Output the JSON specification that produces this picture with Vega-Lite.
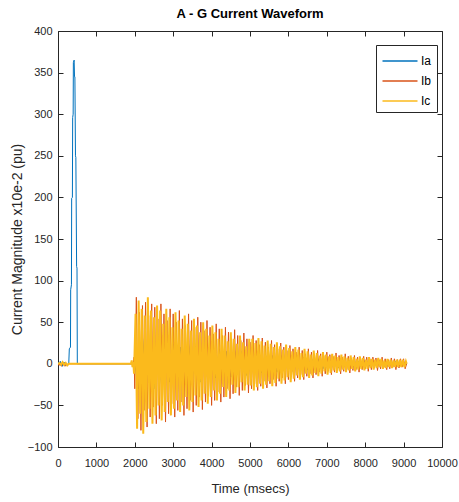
{
"$schema": "https://vega.github.io/schema/vega-lite/v6.json",
"width": 384, "height": 416,
"autosize": {"type": "none"},
"padding": {"left": 58, "top": 31, "right": 17, "bottom": 55},
"background": "white",
"config": {"view": {"stroke": null}, "font": "Liberation Sans"},
"title": {"text": "A - G Current Waveform", "font": "Liberation Sans", "fontSize": 13, "fontWeight": "bold", "color": "#000000", "anchor": "middle", "offset": 4},
"datasets": {
"ia": [
{"t":0,"v":0},{"t":20,"v":2},{"t":40,"v":-1},{"t":60,"v":3},{"t":80,"v":-2},{"t":100,"v":1},{"t":120,"v":-3},{"t":140,"v":2},{"t":160,"v":-1},{"t":180,"v":2},{"t":200,"v":-2},{"t":220,"v":1},{"t":240,"v":-1},{"t":260,"v":0},{"t":280,"v":0},
{"t":295,"v":18},{"t":325,"v":20},{"t":330,"v":89},{"t":350,"v":95},{"t":356,"v":199},{"t":375,"v":200},{"t":382,"v":296},{"t":395,"v":300},{"t":400,"v":362},{"t":420,"v":365},{"t":430,"v":345},{"t":440,"v":345},{"t":455,"v":250},{"t":465,"v":248},{"t":485,"v":117},{"t":495,"v":115},{"t":503,"v":0},{"t":1950,"v":0},
{"t":2000,"v":0},{"t":2100,"v":-30},{"t":2200,"v":32},{"t":2300,"v":-26},{"t":2400,"v":28},{"t":2500,"v":-30},{"t":2600,"v":24},{"t":2700,"v":-27},{"t":2800,"v":25},{"t":2900,"v":-22},{"t":3000,"v":24},{"t":3100,"v":-25},{"t":3200,"v":20},{"t":3300,"v":-22},{"t":3400,"v":23},{"t":3500,"v":-19},{"t":3600,"v":21},{"t":3700,"v":-22},{"t":3800,"v":18},{"t":3900,"v":-19},{"t":4000,"v":20},{"t":4100,"v":-17},{"t":4200,"v":18},{"t":4300,"v":-18},{"t":4400,"v":15},{"t":4500,"v":-16},{"t":4600,"v":16},{"t":4700,"v":-14},{"t":4800,"v":15},{"t":4900,"v":-14},{"t":5000,"v":12},{"t":5100,"v":-13},{"t":5200,"v":13},{"t":5300,"v":-11},{"t":5400,"v":12},{"t":5500,"v":-11},{"t":5600,"v":10},{"t":5700,"v":-10},{"t":5800,"v":10},{"t":5900,"v":-9},{"t":6000,"v":9},{"t":6100,"v":-9},{"t":6200,"v":8},{"t":6300,"v":-8},{"t":6400,"v":8},{"t":6500,"v":-7},{"t":6600,"v":7},{"t":6700,"v":-7},{"t":6800,"v":6},{"t":6900,"v":-6},{"t":7000,"v":6},{"t":7100,"v":-6},{"t":7200,"v":5},{"t":7300,"v":-5},{"t":7400,"v":5},{"t":7500,"v":-5},{"t":7600,"v":4},{"t":7700,"v":-4},{"t":7800,"v":4},{"t":7900,"v":-4},{"t":8000,"v":4},{"t":8100,"v":-3},{"t":8200,"v":3},{"t":8300,"v":-3},{"t":8400,"v":3},{"t":8500,"v":-3},{"t":8600,"v":3},{"t":8700,"v":-2},{"t":8800,"v":3},{"t":8900,"v":-2},{"t":9000,"v":2},{"t":9080,"v":0}
],
"ib": [
{"t":0,"v":0},{"t":30,"v":-2},{"t":60,"v":1},{"t":90,"v":-3},{"t":120,"v":2},{"t":150,"v":-1},{"t":180,"v":-3},{"t":210,"v":1},{"t":240,"v":-2},{"t":270,"v":-1},{"t":300,"v":0},{"t":1960,"v":0},{"t":1980,"v":8},
{"t":2000,"v":-30},{"t":2040,"v":80},{"t":2080,"v":-66},{"t":2120,"v":62},{"t":2160,"v":-80},{"t":2200,"v":70},{"t":2240,"v":-56},{"t":2280,"v":74},{"t":2320,"v":-76},{"t":2360,"v":58},{"t":2400,"v":-64},{"t":2440,"v":72},{"t":2480,"v":-52},
{"t":2520,"v":68},{"t":2560,"v":-72},{"t":2600,"v":54},{"t":2640,"v":-66},{"t":2680,"v":72},{"t":2720,"v":-50},{"t":2760,"v":60},{"t":2800,"v":-70},{"t":2840,"v":52},{"t":2880,"v":-60},{"t":2920,"v":66},{"t":2960,"v":-48},
{"t":3000,"v":60},{"t":3040,"v":-64},{"t":3080,"v":50},{"t":3120,"v":-56},{"t":3160,"v":64},{"t":3200,"v":-46},{"t":3240,"v":54},{"t":3280,"v":-62},{"t":3320,"v":46},{"t":3360,"v":-54},{"t":3400,"v":60},{"t":3440,"v":-44},
{"t":3480,"v":52},{"t":3520,"v":-58},{"t":3560,"v":44},{"t":3600,"v":-50},{"t":3640,"v":56},{"t":3680,"v":-40},{"t":3720,"v":50},{"t":3760,"v":-55},{"t":3800,"v":40},{"t":3840,"v":-46},{"t":3880,"v":52},{"t":3920,"v":-38},{"t":3960,"v":44},
{"t":4000,"v":-50},{"t":4040,"v":36},{"t":4080,"v":-44},{"t":4120,"v":48},{"t":4160,"v":-34},{"t":4200,"v":42},{"t":4240,"v":-46},{"t":4280,"v":34},{"t":4320,"v":-40},{"t":4360,"v":44},{"t":4400,"v":-30},{"t":4440,"v":38},{"t":4480,"v":-42},
{"t":4520,"v":30},{"t":4560,"v":-36},{"t":4600,"v":41},{"t":4640,"v":-28},{"t":4680,"v":34},{"t":4720,"v":-38},{"t":4760,"v":28},{"t":4800,"v":-32},{"t":4840,"v":37},{"t":4880,"v":-26},{"t":4920,"v":30},{"t":4960,"v":-35},
{"t":5000,"v":26},{"t":5040,"v":-30},{"t":5080,"v":34},{"t":5120,"v":-24},{"t":5160,"v":28},{"t":5200,"v":-32},{"t":5240,"v":23},{"t":5280,"v":-27},{"t":5320,"v":31},{"t":5360,"v":-21},{"t":5400,"v":26},{"t":5440,"v":-29},{"t":5480,"v":20},
{"t":5520,"v":-24},{"t":5560,"v":28},{"t":5600,"v":-19},{"t":5640,"v":23},{"t":5680,"v":-27},{"t":5720,"v":18},{"t":5760,"v":-21},{"t":5800,"v":25},{"t":5840,"v":-17},{"t":5880,"v":20},{"t":5920,"v":-24},{"t":5960,"v":16},
{"t":6000,"v":-19},{"t":6040,"v":22},{"t":6080,"v":-15},{"t":6120,"v":18},{"t":6160,"v":-21},{"t":6200,"v":14},{"t":6240,"v":-17},{"t":6280,"v":20},{"t":6320,"v":-13},{"t":6360,"v":16},{"t":6400,"v":-19},{"t":6440,"v":12},{"t":6480,"v":-15},
{"t":6520,"v":18},{"t":6560,"v":-12},{"t":6600,"v":14},{"t":6640,"v":-17},{"t":6680,"v":11},{"t":6720,"v":-13},{"t":6760,"v":16},{"t":6800,"v":-10},{"t":6840,"v":12},{"t":6880,"v":-15},{"t":6920,"v":10},{"t":6960,"v":-12},
{"t":7000,"v":14},{"t":7040,"v":-9},{"t":7080,"v":11},{"t":7120,"v":-13},{"t":7160,"v":9},{"t":7200,"v":-10},{"t":7240,"v":13},{"t":7280,"v":-8},{"t":7320,"v":10},{"t":7360,"v":-12},{"t":7400,"v":8},{"t":7440,"v":-9},{"t":7480,"v":12},
{"t":7520,"v":-7},{"t":7560,"v":9},{"t":7600,"v":-11},{"t":7640,"v":7},{"t":7680,"v":-8},{"t":7720,"v":10},{"t":7760,"v":-7},{"t":7800,"v":8},{"t":7840,"v":-10},{"t":7880,"v":6},{"t":7920,"v":-7},{"t":7960,"v":9},
{"t":8000,"v":-6},{"t":8040,"v":8},{"t":8080,"v":-9},{"t":8120,"v":6},{"t":8160,"v":-7},{"t":8200,"v":8},{"t":8240,"v":-5},{"t":8280,"v":7},{"t":8320,"v":-8},{"t":8360,"v":5},{"t":8400,"v":-6},{"t":8440,"v":8},{"t":8480,"v":-5},
{"t":8520,"v":6},{"t":8560,"v":-7},{"t":8600,"v":5},{"t":8640,"v":-6},{"t":8680,"v":7},{"t":8720,"v":-4},{"t":8760,"v":6},{"t":8800,"v":-7},{"t":8840,"v":5},{"t":8880,"v":-5},{"t":8920,"v":6},{"t":8960,"v":-4},{"t":9000,"v":6},{"t":9040,"v":-6},{"t":9080,"v":0}
],
"ic": [
{"t":0,"v":0},{"t":40,"v":1},{"t":80,"v":-1},{"t":120,"v":2},{"t":160,"v":-1},{"t":200,"v":1},{"t":240,"v":-2},{"t":280,"v":0},{"t":1900,"v":0},{"t":1920,"v":4},{"t":1940,"v":-4},{"t":1960,"v":2},{"t":1980,"v":-12},
{"t":2020,"v":60},{"t":2060,"v":-78},{"t":2100,"v":76},{"t":2140,"v":-60},{"t":2180,"v":66},{"t":2220,"v":-84},{"t":2260,"v":58},{"t":2300,"v":-70},{"t":2340,"v":80},{"t":2380,"v":-54},{"t":2420,"v":64},{"t":2460,"v":-72},{"t":2500,"v":56},
{"t":2540,"v":-62},{"t":2580,"v":70},{"t":2620,"v":-50},{"t":2660,"v":64},{"t":2700,"v":-68},{"t":2740,"v":48},{"t":2780,"v":-58},{"t":2820,"v":66},{"t":2860,"v":-46},{"t":2900,"v":56},{"t":2940,"v":-62},{"t":2980,"v":44},
{"t":3020,"v":-54},{"t":3060,"v":62},{"t":3100,"v":-44},{"t":3140,"v":52},{"t":3180,"v":-58},{"t":3220,"v":42},{"t":3260,"v":-50},{"t":3300,"v":58},{"t":3340,"v":-40},{"t":3380,"v":48},{"t":3420,"v":-56},{"t":3460,"v":40},
{"t":3500,"v":-46},{"t":3540,"v":54},{"t":3580,"v":-38},{"t":3620,"v":46},{"t":3660,"v":-52},{"t":3700,"v":38},{"t":3740,"v":-44},{"t":3780,"v":50},{"t":3820,"v":-36},{"t":3860,"v":42},{"t":3900,"v":-48},{"t":3940,"v":34},
{"t":3980,"v":-40},{"t":4020,"v":46},{"t":4060,"v":-32},{"t":4100,"v":38},{"t":4140,"v":-44},{"t":4180,"v":30},{"t":4220,"v":-36},{"t":4260,"v":42},{"t":4300,"v":-28},{"t":4340,"v":34},{"t":4380,"v":-40},{"t":4420,"v":27},
{"t":4460,"v":-32},{"t":4500,"v":38},{"t":4540,"v":-25},{"t":4580,"v":30},{"t":4620,"v":-35},{"t":4660,"v":24},{"t":4700,"v":-28},{"t":4740,"v":34},{"t":4780,"v":-22},{"t":4820,"v":26},{"t":4860,"v":-32},{"t":4900,"v":21},{"t":4940,"v":-25},
{"t":4980,"v":30},{"t":5020,"v":-26},{"t":5060,"v":30},{"t":5100,"v":-32},{"t":5140,"v":25},{"t":5180,"v":-28},{"t":5220,"v":31},{"t":5260,"v":-24},{"t":5300,"v":27},{"t":5340,"v":-30},{"t":5380,"v":22},{"t":5420,"v":-25},{"t":5460,"v":28},
{"t":5500,"v":-21},{"t":5540,"v":24},{"t":5580,"v":-27},{"t":5620,"v":20},{"t":5660,"v":-23},{"t":5700,"v":26},{"t":5740,"v":-18},{"t":5780,"v":21},{"t":5820,"v":-24},{"t":5860,"v":17},{"t":5900,"v":-20},{"t":5940,"v":23},{"t":5980,"v":-16},
{"t":6020,"v":19},{"t":6060,"v":-22},{"t":6100,"v":15},{"t":6140,"v":-18},{"t":6180,"v":20},{"t":6220,"v":-14},{"t":6260,"v":17},{"t":6300,"v":-19},{"t":6340,"v":13},{"t":6380,"v":-16},{"t":6420,"v":18},{"t":6460,"v":-12},{"t":6500,"v":15},
{"t":6540,"v":-17},{"t":6580,"v":11},{"t":6620,"v":-14},{"t":6660,"v":16},{"t":6700,"v":-11},{"t":6740,"v":13},{"t":6780,"v":-15},{"t":6820,"v":10},{"t":6860,"v":-12},{"t":6900,"v":14},{"t":6940,"v":-9},{"t":6980,"v":11},
{"t":7020,"v":-13},{"t":7060,"v":9},{"t":7100,"v":-11},{"t":7140,"v":12},{"t":7180,"v":-8},{"t":7220,"v":10},{"t":7260,"v":-11},{"t":7300,"v":8},{"t":7340,"v":-9},{"t":7380,"v":11},{"t":7420,"v":-7},{"t":7460,"v":9},{"t":7500,"v":-10},
{"t":7540,"v":7},{"t":7580,"v":-8},{"t":7620,"v":10},{"t":7660,"v":-6},{"t":7700,"v":8},{"t":7740,"v":-9},{"t":7780,"v":6},{"t":7820,"v":-7},{"t":7860,"v":9},{"t":7900,"v":-6},{"t":7940,"v":7},{"t":7980,"v":-8},
{"t":8020,"v":5},{"t":8060,"v":-6},{"t":8100,"v":8},{"t":8140,"v":-5},{"t":8180,"v":6},{"t":8220,"v":-7},{"t":8260,"v":5},{"t":8300,"v":-5},{"t":8340,"v":7},{"t":8380,"v":-4},{"t":8420,"v":6},{"t":8460,"v":-6},{"t":8500,"v":4},
{"t":8540,"v":-5},{"t":8580,"v":6},{"t":8620,"v":-4},{"t":8660,"v":5},{"t":8700,"v":-5},{"t":8740,"v":4},{"t":8780,"v":-4},{"t":8820,"v":5},{"t":8860,"v":-4},{"t":8900,"v":5},{"t":8940,"v":-4},{"t":8980,"v":5},{"t":9020,"v":-4},{"t":9060,"v":3},{"t":9080,"v":0}
]
},
"resolve": {"axis": {"x": "independent", "y": "independent"}},
"layer": [
{
"data": {"name": "ia"},
"transform": [{"calculate": "'Ia'", "as": "s"}],
"mark": {"type": "line", "strokeWidth": 1, "clip": true},
"encoding": {
"x": {"field": "t", "type": "quantitative", "scale": {"domain": [0, 10000], "nice": false},
"axis": {"title": "Time (msecs)", "format": "d", "values": [0,1000,2000,3000,4000,5000,6000,7000,8000,9000,10000], "grid": false, "domainColor": "#262626", "tickColor": "#262626", "tickSize": -5, "labelPadding": 15, "labelFont": "Liberation Sans", "labelFontSize": 11, "labelColor": "#262626", "titleFont": "Liberation Sans", "titleFontSize": 13, "titleFontWeight": "normal", "titleColor": "#262626", "titlePadding": 14, "labelFlush": false, "labelOverlap": false}},
"y": {"field": "v", "type": "quantitative", "scale": {"domain": [-100, 400], "nice": false},
"axis": {"title": "Current Magnitude x10e-2 (pu)", "format": "d", "values": [-100,-50,0,50,100,150,200,250,300,350,400], "grid": false, "domainColor": "#262626", "tickColor": "#262626", "tickSize": -5, "labelPadding": 11, "labelFont": "Liberation Sans", "labelFontSize": 11, "labelColor": "#262626", "titleFont": "Liberation Sans", "titleFontSize": 14, "titleFontWeight": "normal", "titleColor": "#262626", "titlePadding": 3, "labelOverlap": false}},
"color": {"field": "s", "type": "nominal", "scale": {"domain": ["Ia", "Ib", "Ic"], "range": ["#0072BD", "#D95319", "#FBBA1C"]},
"legend": {"title": null, "orient": "none", "legendX": 318, "legendY": 14, "direction": "vertical", "symbolType": "M-1.75,0L1.75,0", "symbolSize": 400, "symbolStrokeWidth": 1.5, "symbolOffset": 8, "labelOffset": 10, "labelFont": "Liberation Sans", "labelFontSize": 12, "labelColor": "#000000", "strokeColor": "#262626", "fillColor": "white", "padding": 5, "rowPadding": 3}}
}
},
{
"data": {"name": "ib"},
"transform": [{"calculate": "'Ib'", "as": "s"}],
"mark": {"type": "line", "strokeWidth": 1, "clip": true},
"encoding": {
"x": {"field": "t", "type": "quantitative", "axis": {"orient": "top", "title": null, "labels": false, "values": [0,1000,2000,3000,4000,5000,6000,7000,8000,9000,10000], "grid": false, "domainColor": "#262626", "tickColor": "#262626", "tickSize": -5}},
"y": {"field": "v", "type": "quantitative", "axis": {"orient": "right", "title": null, "labels": false, "values": [-100,-50,0,50,100,150,200,250,300,350,400], "grid": false, "domainColor": "#262626", "tickColor": "#262626", "tickSize": -5}},
"color": {"field": "s", "type": "nominal"}
}
},
{
"data": {"name": "ic"},
"transform": [{"calculate": "'Ic'", "as": "s"}],
"mark": {"type": "line", "strokeWidth": 2, "clip": true},
"encoding": {
"x": {"field": "t", "type": "quantitative", "axis": null},
"y": {"field": "v", "type": "quantitative", "axis": null},
"color": {"field": "s", "type": "nominal"}
}
}
]
}
